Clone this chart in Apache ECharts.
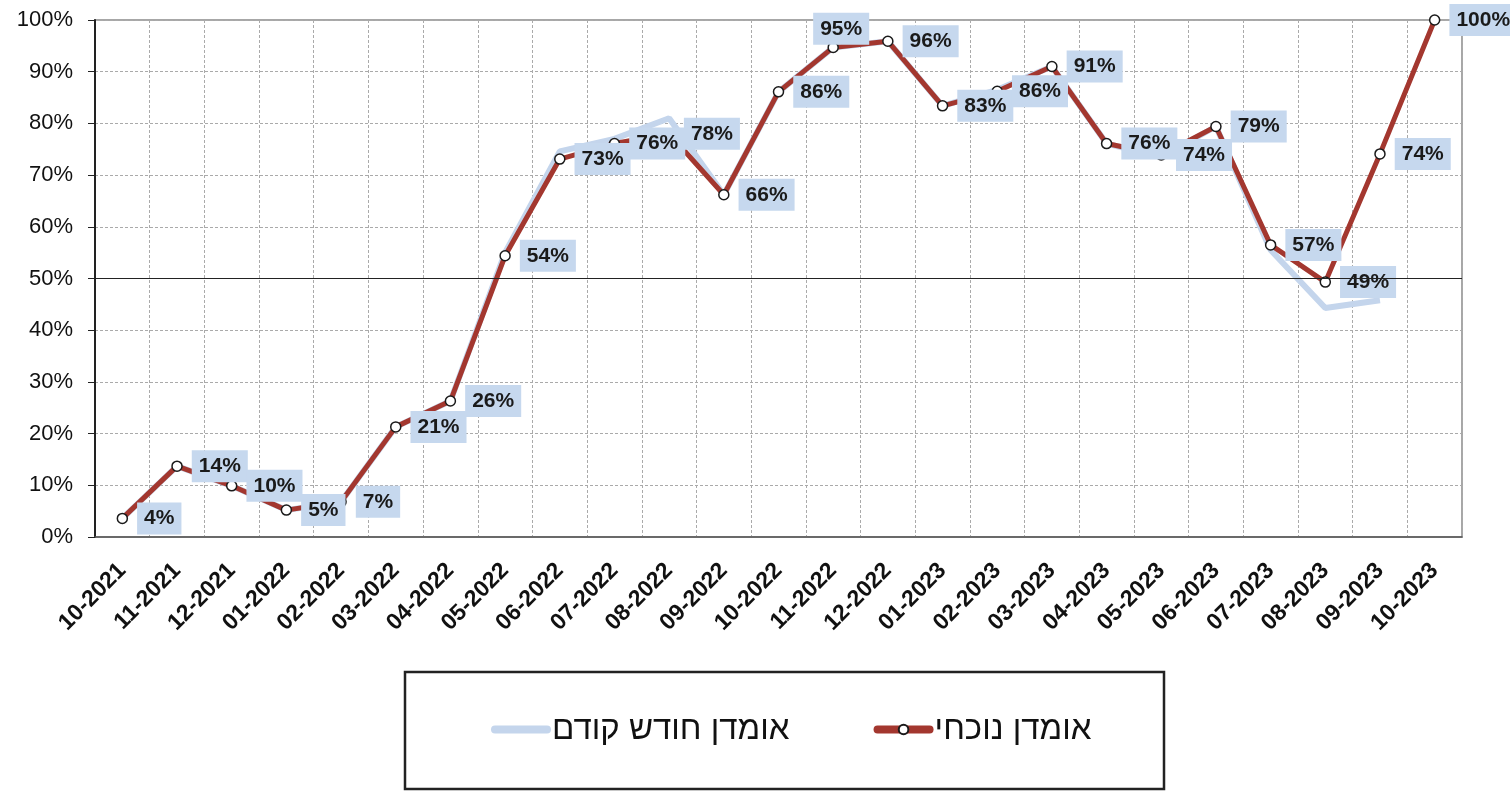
<!DOCTYPE html>
<html>
<head>
<meta charset="utf-8">
<script src="https://cdn.jsdelivr.net/npm/echarts@6/dist/echarts.min.js"></script>
<style>
html,body{margin:0;padding:0;background:#fff;}
#chart{width:1510px;height:792px;}
</style>
</head>
<body>
<div id="chart"></div>
<script>
const categories = ['10-2021','11-2021','12-2021','01-2022','02-2022','03-2022','04-2022','05-2022','06-2022','07-2022','08-2022','09-2022','10-2022','11-2022','12-2022','01-2023','02-2023','03-2023','04-2023','05-2023','06-2023','07-2023','08-2023','09-2023','10-2023'];
const currentEstimate = [3.6,13.7,9.9,5.2,6.8,21.3,26.3,54.4,73.1,76.1,78,66.2,86.1,94.7,95.9,83.4,86.2,91,76.1,73.9,79.4,56.5,49.3,74.1,100];
const previousEstimate = [3.6,13.7,9.9,5.2,6.8,21.3,26.3,55,74.6,77,81,66.2,86.1,94.7,95.9,83.4,86.5,91,76.1,73.5,79.4,55.5,44.3,45.8,null];
const yTicks = [0,10,20,30,40,50,60,70,80,90,100];
const seriesNames = ['אומדן נוכחי','אומדן חודש קודם'];
const referenceLine = 50;

const chart = echarts.init(document.getElementById('chart'));
const font = 'Liberation Sans, Arial, sans-serif';
const RED = '#a3372f';
const BLUE = '#c4d5ec';

const curData = currentEstimate.map((v, i) => {
  if (i === 13) {
    return { value: v, label: { position: 'top', distance: -3, offset: [8, 0] } };
  }
  return v;
});

chart.setOption({
  animation: false,
  backgroundColor: '#fff',
  textStyle: { fontFamily: font },
  grid: {
    left: 95, top: 20, right: 48, bottom: 255,
    show: true, borderColor: '#8a8a8a', borderWidth: 1.5
  },
  graphic: [{
    type: 'rect',
    shape: { x: 405, y: 672, width: 759, height: 117 },
    style: { fill: 'none', stroke: '#222', lineWidth: 2.5 },
    z: 0
  }],
  legend: {
    data: [
      { name: seriesNames[1], itemStyle: { opacity: 0 }, lineStyle: { width: 8, cap: 'round' } },
      { name: seriesNames[0], lineStyle: { width: 8, cap: 'round' } }
    ],
    left: 486, top: 708,
    itemWidth: 52, itemHeight: 12,
    itemGap: 84,
    textStyle: { fontSize: 33, color: '#111', fontFamily: font }
  },
  xAxis: {
    type: 'category',
    data: categories,
    boundaryGap: true,
    axisLine: { lineStyle: { color: '#555', width: 1.5 } },
    axisTick: { show: false },
    axisLabel: { rotate: 45, fontSize: 23, fontWeight: 'bold', color: '#111', margin: 30, interval: 0, fontFamily: font },
    splitLine: { show: true, interval: 0, lineStyle: { color: '#aaa', type: [3, 2], width: 1 } }
  },
  yAxis: {
    type: 'value',
    min: yTicks[0], max: yTicks[yTicks.length - 1], interval: 10,
    axisLine: { show: true, lineStyle: { color: '#222', width: 2 } },
    axisTick: { show: true, length: 7, lineStyle: { color: '#222' } },
    axisLabel: { formatter: '{value}%', fontSize: 22, color: '#111', margin: 22, fontFamily: font },
    splitLine: { show: true, lineStyle: { color: '#aaa', type: [3, 2], width: 1 } }
  },
  series: [
    {
      name: seriesNames[1],
      type: 'line',
      data: previousEstimate,
      symbol: 'none',
      lineStyle: { color: BLUE, width: 6 },
      itemStyle: { color: BLUE },
      z: 2
    },
    {
      name: seriesNames[0],
      type: 'line',
      data: curData,
      symbol: 'circle',
      symbolSize: 10,
      lineStyle: { color: RED, width: 5 },
      itemStyle: { color: '#fff', borderColor: '#1a1a1a', borderWidth: 1.5 },
      label: {
        show: true,
        position: 'right',
        distance: 9,
        formatter: p => Math.round(p.value) + '%',
        fontSize: 21,
        fontWeight: 'bold',
        color: '#1a1a1a',
        backgroundColor: '#c6d8ee',
        padding: [6, 7, 5, 7],
        fontFamily: font
      },
      markLine: {
        silent: true,
        symbol: 'none',
        label: { show: false },
        lineStyle: { color: '#222', type: 'solid', width: 1.2 },
        data: [{ yAxis: referenceLine }]
      },
      z: 3
    }
  ]
});
</script>
</body>
</html>
